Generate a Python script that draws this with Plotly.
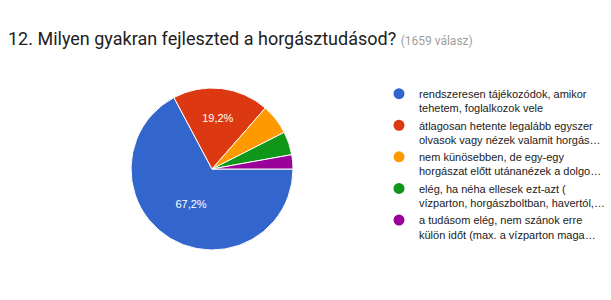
import plotly.graph_objects as go

categories = [
    "rendszeresen tájékozódok, amikor<br>tehetem, foglalkozok vele",
    "átlagosan hetente legalább egyszer<br>olvasok vagy nézek valamit horgás…",
    "nem künösebben, de egy-egy<br>horgászat előtt utánanézek a dolgo…",
    "elég, ha néha ellesek ezt-azt (<br>vízparton, horgászboltban, havertól,…",
    "a tudásom elég, nem szánok erre<br>külön időt (max. a vízparton maga…",
]
counts = [1115, 319, 101, 77, 47]
colors = ["#3366cc", "#dc3912", "#ff9900", "#109618", "#990099"]

total = sum(counts)
labels_txt = []
for c in counts:
    p = 100.0 * c / total
    labels_txt.append((f"{p:.1f}%".replace(".", ",")) if p >= 10 else "")

W, H = 611, 300
cx, cy, r = 212, 169, 81

fig = go.Figure()
fig.add_trace(go.Pie(
    labels=categories, values=counts, text=labels_txt,
    textinfo="text", textposition="inside", insidetextorientation="horizontal",
    sort=False, direction="clockwise", rotation=90,
    marker=dict(colors=colors, line=dict(color="white", width=1)),
    textfont=dict(family="Arial, Liberation Sans", size=11, color="white"),
    showlegend=False, hoverinfo="label+percent",
    domain=dict(x=[(cx - r) / W, (cx + r) / W], y=[(H - cy - r) / H, (H - cy + r) / H]),
))
for lab, col in zip(categories, colors):
    fig.add_trace(go.Scatter(
        x=[None], y=[None], mode="markers", name=lab,
        marker=dict(symbol="circle", size=11, color=col),
        showlegend=True,
    ))

fig.update_layout(
    width=W, height=H,
    margin=dict(l=0, r=0, t=0, b=0, autoexpand=False),
    paper_bgcolor="white", plot_bgcolor="white",
    xaxis=dict(visible=False), yaxis=dict(visible=False),
    title=dict(
        text="12. Milyen gyakran fejleszted a horgásztudásod? "
             "<span style='font-size:12px;color:#9e9e9e'>(1659 válasz)</span>",
        x=8 / W, xanchor="left", xref="paper",
        y=1 - 39 / H, yanchor="middle", yref="paper",
        font=dict(family="Roboto", size=18, color="#212121"),
    ),
    legend=dict(
        x=379 / W, xanchor="left", y=1 - 80 / H, yanchor="top",
        font=dict(family="Arial, Liberation Sans", size=11, color="#222222"),
        valign="top", traceorder="normal", itemclick=False,
        bgcolor="rgba(0,0,0,0)",
    ),
)
fig.write_html("out.html")
